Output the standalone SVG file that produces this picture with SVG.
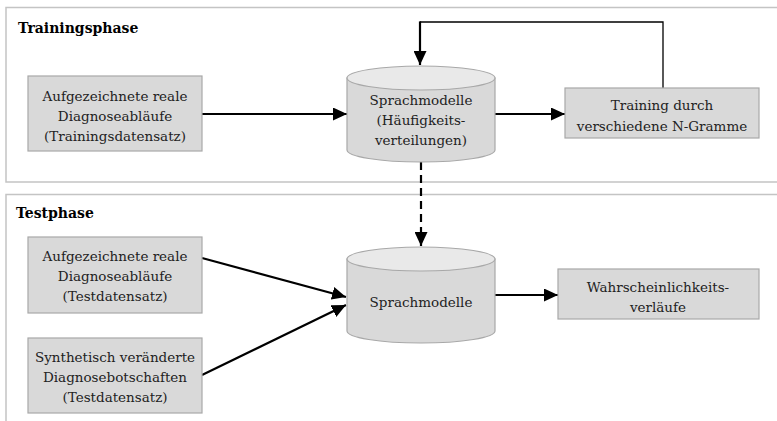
<svg xmlns="http://www.w3.org/2000/svg" width="777" height="421" viewBox="0 0 777 421">
  <defs>
    <marker id="ah" viewBox="0 0 14 13" refX="14" refY="6.5" markerWidth="14" markerHeight="13" markerUnits="userSpaceOnUse" orient="auto">
      <path d="M0,0 L14,6.5 L0,13 Z" fill="#000"/>
    </marker>
    <style>
      .frame { fill: none; stroke: #c4c4c4; stroke-width: 1.5; }
      .box { fill: #d9d9d9; stroke: #a8a8a8; stroke-width: 1.2; }
      .cyl { fill: #d9d9d9; stroke: #a8a8a8; stroke-width: 1.2; }
      .cyltop { fill: #e9e9e9; stroke: #a8a8a8; stroke-width: 1.2; }
      .t { font-family: "DejaVu Serif", serif; font-size: 13.5px; fill: #222; text-anchor: middle; }
      .h { font-family: "DejaVu Serif", serif; font-size: 14px; font-weight: bold; fill: #000; }
      .c { fill: none; stroke: #000; stroke-width: 2.2; }
      .thin { fill: none; stroke: #000; stroke-width: 1.3; }
    </style>
  </defs>

  <!-- phase frames -->
  <g id="frame-training">
    <path class="frame" d="M790,7.5 H6 V182 H790"/>
    <text class="h" x="18" y="33">Trainingsphase</text>
  </g>
  <g id="frame-test">
    <path class="frame" d="M790,194.5 H6 V430"/>
    <text class="h" x="16" y="218">Testphase</text>
  </g>

  <!-- connectors -->
  <g id="connectors">
    <line class="c" x1="202" y1="114" x2="347" y2="114" marker-end="url(#ah)"/>
    <line class="c" x1="495" y1="114" x2="565" y2="114" marker-end="url(#ah)"/>
    <path class="thin" d="M663,88 V22 H420"/>
    <line class="c" x1="420" y1="21.4" x2="420" y2="65" marker-end="url(#ah)"/>
    <line class="c" x1="421" y1="162" x2="421" y2="246" stroke-dasharray="8,5" marker-end="url(#ah)"/>
    <line class="c" x1="202" y1="258" x2="346" y2="297" marker-end="url(#ah)"/>
    <line class="c" x1="202" y1="375" x2="346" y2="305" marker-end="url(#ah)"/>
    <line class="c" x1="495" y1="295" x2="558" y2="295" marker-end="url(#ah)"/>
  </g>

  <!-- training nodes -->
  <g id="train-data">
    <rect class="box" x="28" y="76" width="174" height="75"/>
    <text class="t" x="115" y="101">Aufgezeichnete reale</text>
    <text class="t" x="115" y="121">Diagnoseabläufe</text>
    <text class="t" x="115" y="141">(Trainingsdatensatz)</text>
  </g>
  <g id="train-model">
    <path class="cyl" d="M347,78 V150 A74,12 0 0 0 495,150 V78 Z"/>
    <ellipse class="cyltop" cx="421" cy="78" rx="74" ry="12"/>
    <text class="t" x="421" y="105">Sprachmodelle</text>
    <text class="t" x="421" y="125">(Häufigkeits-</text>
    <text class="t" x="421" y="145">verteilungen)</text>
  </g>
  <g id="ngram-training">
    <rect class="box" x="565" y="88" width="194" height="50"/>
    <text class="t" x="662" y="110">Training durch</text>
    <text class="t" x="662" y="131">verschiedene N-Gramme</text>
  </g>

  <!-- test nodes -->
  <g id="test-data-real">
    <rect class="box" x="28" y="237" width="174" height="76"/>
    <text class="t" x="115" y="261">Aufgezeichnete reale</text>
    <text class="t" x="115" y="281">Diagnoseabläufe</text>
    <text class="t" x="115" y="301">(Testdatensatz)</text>
  </g>
  <g id="test-data-synthetic">
    <rect class="box" x="28" y="338" width="174" height="75"/>
    <text class="t" x="115" y="362">Synthetisch veränderte</text>
    <text class="t" x="115" y="382">Diagnosebotschaften</text>
    <text class="t" x="115" y="402">(Testdatensatz)</text>
  </g>
  <g id="test-model">
    <path class="cyl" d="M347,259 V331 A74,12 0 0 0 495,331 V259 Z"/>
    <ellipse class="cyltop" cx="421" cy="259" rx="74" ry="12"/>
    <text class="t" x="421" y="307">Sprachmodelle</text>
  </g>
  <g id="probabilities">
    <rect class="box" x="558" y="269" width="201" height="50"/>
    <text class="t" x="658" y="292">Wahrscheinlichkeits-</text>
    <text class="t" x="658" y="312">verläufe</text>
  </g>
</svg>
